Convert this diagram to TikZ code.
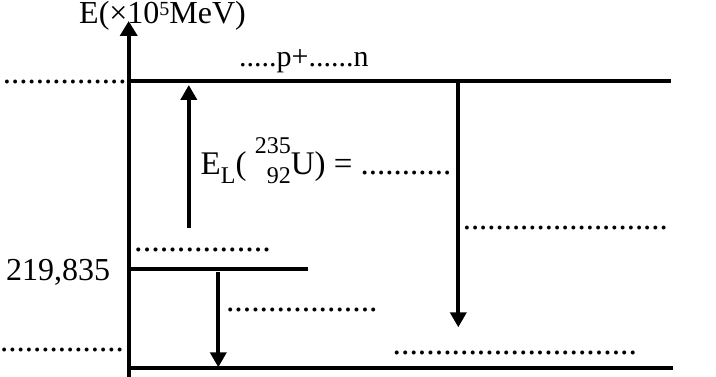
\documentclass[tikz,border=0pt]{standalone}
\usepackage{fontspec}
\setmainfont{Liberation Serif}
\usetikzlibrary{arrows.meta}
\begin{document}
\begin{tikzpicture}[x=1pt,y=-1pt,
  level/.style={line width=4pt},
  arr/.style={line width=4pt,-{Triangle[width=16pt,length=15pt]}},
  lbl/.style={inner sep=0pt, anchor=base west, font=\fontsize{32}{38}\selectfont},
  dotrow/.style={inner sep=0pt, anchor=base west, font=\fontsize{#1}{#1}\selectfont},
]
\useasboundingbox (0,0) rectangle (716,377);
% axis
\coordinate (ax0) at (128.7,380);
\coordinate (ax1) at (128.7,21);
\draw[line width=4pt,-{Triangle[width=17pt,length=15pt]}] (ax0) -- (ax1);
% levels
\coordinate (topL) at (128.7,80.7);
\coordinate (topR) at (671,80.7);
\coordinate (midL) at (128.7,268.7);
\coordinate (midR) at (308,268.7);
\coordinate (botL) at (128.7,368.3);
\coordinate (botR) at (672.7,368.3);
\draw[level] (topL) -- (topR);
\draw[level] (midL) -- (midR);
\draw[level] (botL) -- (botR);
% arrows
\coordinate (upS) at (188.8,228.3);
\coordinate (upE) at (188.8,85);
\coordinate (dnS) at (458.3,80.7);
\coordinate (dnE) at (458.3,327.3);
\coordinate (sdS) at (218.3,271.7);
\coordinate (sdE) at (218.3,367.3);
\draw[arr] (upS) -- (upE);
\draw[arr] (dnS) -- (dnE);
\draw[arr] (sdS) -- (sdE);
% labels
\node[lbl] (eaxis) at (79,24) {E(×10\raisebox{8pt}{\fontsize{20}{20}\selectfont 5}MeV)};
\node[lbl,font=\fontsize{30}{36}\selectfont] (pn) at (239,66.5) {.....p+......n};
\node[lbl] (val) at (6,280) {219,835};
\node[lbl,font=\fontsize{33}{40}\selectfont] (el) at (200.5,175)
  {E\raisebox{-9pt}{\fontsize{24}{24}\selectfont L}( \raisebox{21pt}{\fontsize{24}{24}\selectfont 235}\llap{\raisebox{-9pt}{\fontsize{24}{24}\selectfont 92}}U) = {.....}{.....}.};
% dotted placeholders
\node[dotrow=33] (d1) at (2.6,83.5) {{.....}{.....}{.....}};
\node[dotrow=34.2] (d2) at (134,251.8) {{.....}{.....}{.....}.};
\node[dotrow=33.7] (d3) at (225.8,311.8) {{.....}{.....}{.....}...};
\node[dotrow=33] (d4) at (0,351.1) {{.....}{.....}{.....}};
\node[dotrow=33.7] (d5) at (392.5,354.8) {{.....}{.....}{.....}{.....}{.....}....};
\node[dotrow=32.8] (d6) at (462.6,229.8) {{.....}{.....}{.....}{.....}{.....}};
\end{tikzpicture}
\end{document}
